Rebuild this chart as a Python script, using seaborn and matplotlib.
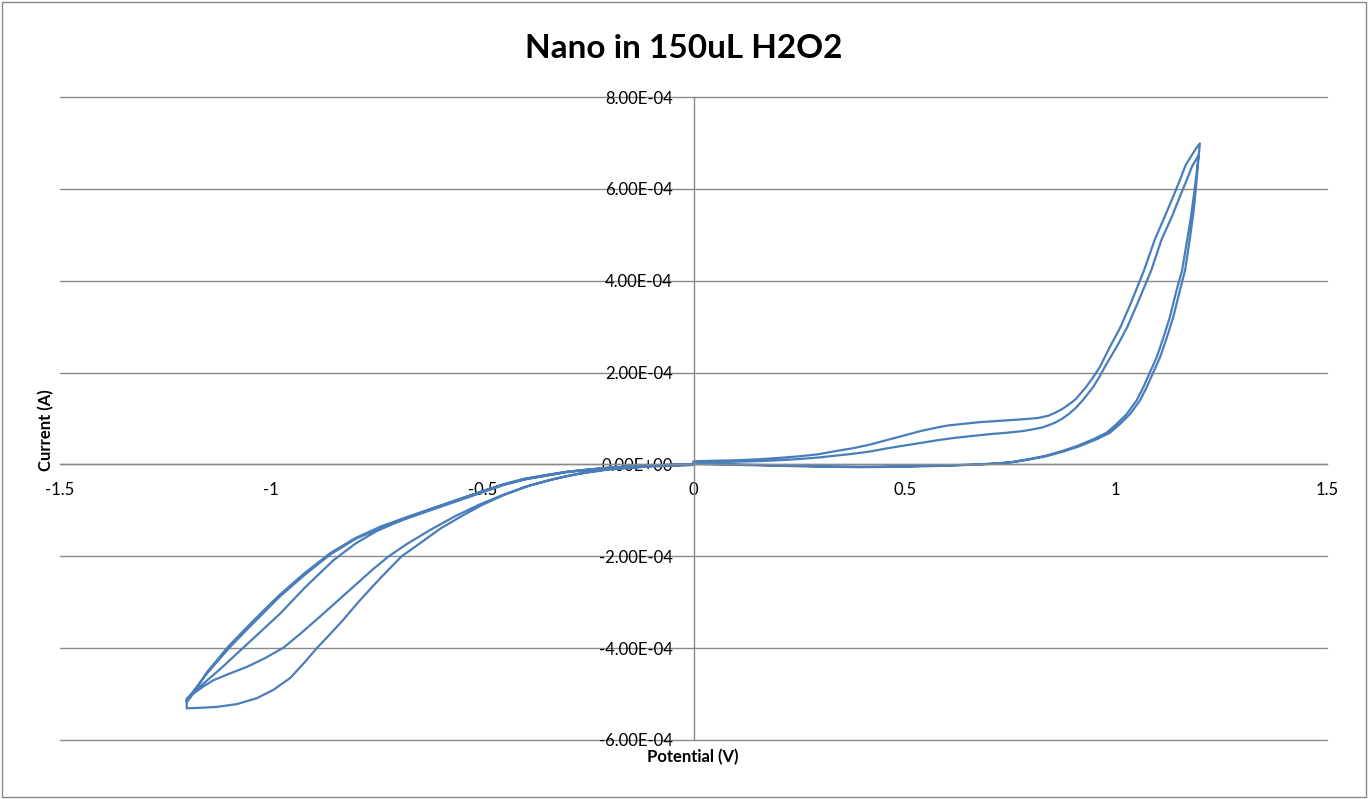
import numpy as np
import pandas as pd
import seaborn as sns
import matplotlib.pyplot as plt
from matplotlib.ticker import FuncFormatter
from matplotlib.patches import Rectangle

# scan branches in the order they were swept; potential in V, current in 1e-4 A
first_neg_v = [0.0, -0.10, -0.20, -0.30, -0.35, -0.40, -0.45, -0.50, -0.56, -0.62, -0.68,
               -0.75, -0.80, -0.853, -0.92, -0.979, -1.02, -1.066, -1.12, -1.169, -1.20]
first_neg_i = [0.01, -0.02, -0.07, -0.16, -0.24, -0.32, -0.44, -0.59, -0.78, -0.97, -1.17,
               -1.45, -1.72, -2.09, -2.68, -3.25, -3.60, -3.99, -4.45, -4.84, -5.10]

ret1_v = [-1.200, -1.17, -1.129, -1.082, -1.034, -0.995, -0.955, -0.920, -0.892, -0.861,
          -0.830, -0.790, -0.742, -0.691, -0.645, -0.60, -0.55, -0.50, -0.45, -0.40,
          -0.35, -0.30, -0.25, -0.20, -0.10, 0.0]
ret1_i = [-5.31, -5.30, -5.28, -5.22, -5.09, -4.91, -4.65, -4.30, -4.00, -3.70,
          -3.39, -2.96, -2.48, -2.00, -1.70, -1.40, -1.13, -0.88, -0.67, -0.49,
          -0.36, -0.25, -0.17, -0.10, -0.04, -0.01]

fwd1_v = [0.0, 0.1, 0.2, 0.3, 0.4, 0.5, 0.6, 0.678, 0.718, 0.757, 0.797, 0.836, 0.876,
          0.915, 0.955, 0.986, 1.010, 1.034, 1.057, 1.073, 1.089, 1.105, 1.121, 1.136,
          1.152, 1.164, 1.176, 1.184, 1.190, 1.195, 1.199]
fwd1_i = [0.02, 0.0, -0.02, -0.04, -0.05, -0.04, -0.02, 0.00, 0.02, 0.05, 0.11, 0.18, 0.28,
          0.40, 0.55, 0.69, 0.88, 1.10, 1.39, 1.68, 2.01, 2.34, 2.77, 3.21,
          3.80, 4.23, 4.96, 5.50, 6.05, 6.60, 6.99]

rev1_v = [1.199, 1.190, 1.181, 1.165, 1.149, 1.133, 1.116, 1.092, 1.067, 1.035, 1.011, 0.986,
          0.962, 0.945, 0.929, 0.905, 0.888, 0.872, 0.855, 0.840, 0.815, 0.775, 0.726, 0.677,
          0.645, 0.604, 0.580, 0.539, 0.498, 0.458, 0.417, 0.376, 0.336, 0.295, 0.254, 0.20,
          0.15, 0.10, 0.05, 0.0]
rev1_i = [6.99, 6.88, 6.75, 6.51, 6.13, 5.77, 5.40, 4.89, 4.23, 3.50, 2.99, 2.56,
          2.12, 1.88, 1.68, 1.42, 1.30, 1.20, 1.12, 1.06, 1.01, 0.98, 0.95, 0.92,
          0.89, 0.85, 0.81, 0.73, 0.63, 0.53, 0.43, 0.35, 0.29, 0.22, 0.18, 0.14,
          0.11, 0.09, 0.08, 0.07]

neg1_v = [0.0, -0.10, -0.20, -0.25, -0.30, -0.35, -0.40, -0.45, -0.50, -0.56, -0.62,
          -0.68, -0.74, -0.80, -0.86, -0.92, -0.98, -1.02, -1.06, -1.10, -1.15, -1.20]
neg1_i = [0.00, -0.03, -0.08, -0.12, -0.17, -0.25, -0.33, -0.45, -0.61, -0.80, -0.99,
          -1.18, -1.38, -1.62, -1.96, -2.40, -2.88, -3.25, -3.62, -4.00, -4.53, -5.13]

ret2_v = [-1.200, -1.184, -1.16, -1.137, -1.10, -1.058, -1.015, -0.971, -0.93, -0.884,
          -0.84, -0.80, -0.76, -0.723, -0.68, -0.624, -0.565, -0.506, -0.45, -0.387,
          -0.33, -0.27, -0.20, -0.10, 0.0]
ret2_i = [-5.16, -4.99, -4.83, -4.70, -4.56, -4.41, -4.22, -3.99, -3.68, -3.31,
          -2.95, -2.62, -2.29, -2.01, -1.74, -1.43, -1.13, -0.87, -0.66, -0.46,
          -0.32, -0.20, -0.11, -0.04, -0.01]

fwd2_v = [0.0, 0.1, 0.2, 0.3, 0.4, 0.5, 0.6, 0.675, 0.714, 0.752, 0.791, 0.830, 0.869,
          0.908, 0.947, 0.978, 1.002, 1.026, 1.049, 1.065, 1.081, 1.097, 1.113, 1.128,
          1.144, 1.157, 1.170, 1.178, 1.186, 1.192, 1.196]
fwd2_i = [0.01, -0.01, -0.03, -0.05, -0.06, -0.05, -0.03, 0.00, 0.02, 0.05, 0.11, 0.18, 0.28,
          0.40, 0.55, 0.69, 0.88, 1.10, 1.39, 1.68, 2.01, 2.34, 2.77, 3.21,
          3.80, 4.23, 4.96, 5.40, 5.95, 6.40, 6.73]

rev2_v = [1.196, 1.181, 1.165, 1.149, 1.133, 1.108, 1.084, 1.051, 1.027, 1.002, 0.978,
          0.962, 0.946, 0.921, 0.905, 0.889, 0.872, 0.856, 0.840, 0.824, 0.783, 0.742,
          0.702, 0.661, 0.620, 0.580, 0.539, 0.498, 0.458, 0.417, 0.376, 0.336, 0.295,
          0.254, 0.20, 0.15, 0.10, 0.05, 0.0]
rev2_i = [6.73, 6.50, 6.13, 5.77, 5.40, 4.89, 4.23, 3.50, 2.99, 2.56, 2.19,
          1.92, 1.68, 1.39, 1.23, 1.10, 0.99, 0.91, 0.85, 0.80, 0.73, 0.69,
          0.66, 0.62, 0.58, 0.53, 0.47, 0.41, 0.35, 0.28, 0.23, 0.19, 0.15,
          0.12, 0.09, 0.07, 0.06, 0.05, 0.04]

neg2_v = [0.0, -0.10, -0.20, -0.25, -0.30, -0.35, -0.40, -0.45, -0.50, -0.56, -0.62,
          -0.68, -0.74, -0.80, -0.86, -0.92, -0.98, -1.02, -1.06, -1.10, -1.15, -1.20]
neg2_i = [0.01, -0.02, -0.07, -0.11, -0.16, -0.23, -0.31, -0.43, -0.58, -0.77, -0.96,
          -1.15, -1.35, -1.60, -1.93, -2.36, -2.84, -3.20, -3.57, -3.95, -4.50, -5.18]

y_ticks = [-6e-4, -4e-4, -2e-4, 0, 2e-4, 4e-4, 6e-4, 8e-4]
x_ticks = [-1.5, -1, -0.5, 0, 0.5, 1, 1.5]

branches = [(first_neg_v, first_neg_i), (ret1_v, ret1_i), (fwd1_v, fwd1_i),
            (rev1_v, rev1_i), (neg1_v, neg1_i), (ret2_v, ret2_i),
            (fwd2_v, fwd2_i), (rev2_v, rev2_i), (neg2_v, neg2_i)]
pot = np.concatenate([b[0] for b in branches])
cur = np.concatenate([b[1] for b in branches]) * 1e-4
df = pd.DataFrame({"Potential": pot, "Current": cur})

sns.set_style("white")
plt.rcParams["font.family"] = ["Lato", "DejaVu Sans"]
plt.rcParams["text.color"] = "black"

grey = "#8a8a8a"
fig = plt.figure(figsize=(13.68, 7.99), dpi=100)
ax = fig.add_axes([60 / 1368, 1 - 740 / 799, 1267 / 1368, 643 / 799])

for yv in y_ticks:
    ax.axhline(yv, color=grey, lw=1.0, zorder=0, clip_on=False)

sns.lineplot(data=df, x="Potential", y="Current", sort=False, estimator=None,
             color="#4a7ebb", lw=1.6, ax=ax)

ax.set_xlim(-1.5, 1.5)
ax.set_ylim(-6e-4, 8e-4)
ax.set_xticks(x_ticks)
ax.set_yticks(y_ticks)
ax.xaxis.set_major_formatter(FuncFormatter(lambda v, p: f"{v:g}"))
ax.yaxis.set_major_formatter(FuncFormatter(lambda v, p: f"{v:.2E}"))
ax.set_xlabel("")
ax.set_ylabel("")

ax.spines["left"].set_position(("data", 0))
ax.spines["bottom"].set_position(("data", 0))
ax.spines["top"].set_visible(False)
ax.spines["right"].set_visible(False)
for s in ["left", "bottom"]:
    ax.spines[s].set_color(grey)
    ax.spines[s].set_linewidth(1.0)
ax.tick_params(axis="x", direction="out", length=4, width=1, color=grey,
               pad=9, labelsize=12, labelcolor="black")
ax.tick_params(axis="y", direction="out", length=4, width=1, color=grey,
               pad=11, labelsize=12, labelcolor="black")
ax.patch.set_alpha(0)

fig.text(0.5, 1 - 48 / 799, "Nano in 150uL H2O2", ha="center", va="center",
         fontsize=24, fontweight="bold", color="black")
fig.text(46 / 1368, 1 - 430 / 799, "Current (A)", rotation=90, ha="center",
         va="center", fontsize=12, fontweight="bold", color="black")
fig.text(693 / 1368, 1 - 757 / 799, "Potential (V)", ha="center", va="center",
         fontsize=12, fontweight="bold", color="black")

fig.add_artist(Rectangle((2 / 1368, 2 / 799), 1364 / 1368, 795 / 799,
                         transform=fig.transFigure, fill=False, ec=grey, lw=1.0))

fig.savefig("out.png", dpi=100)
